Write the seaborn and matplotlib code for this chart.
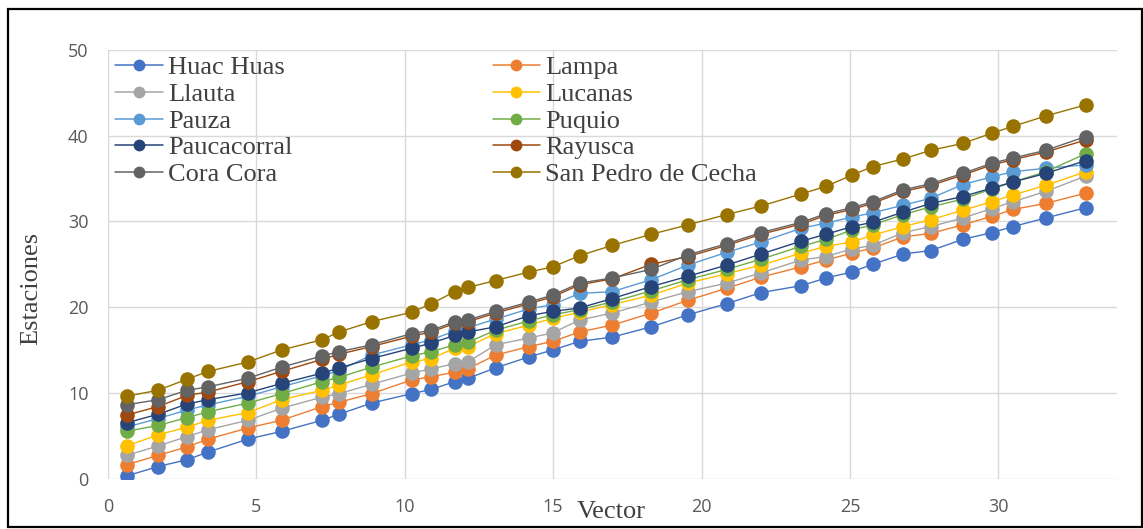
import matplotlib
matplotlib.use("Agg")
import matplotlib.pyplot as plt
from matplotlib.lines import Line2D
from matplotlib.patches import Rectangle
import seaborn as sns
import pandas as pd

# ---------------- data ----------------
vector = [0.63, 1.69, 2.67, 3.38, 4.72, 5.85, 7.22, 7.79, 8.88, 10.23, 10.9,
          11.68, 12.13, 13.06, 14.19, 14.99, 15.89, 16.99, 18.31, 19.54, 20.85,
          22.01, 23.36, 24.2, 25.07, 25.77, 26.8, 27.73, 28.8, 29.79, 30.5,
          31.6, 32.95]

huac_huas = [0.3, 1.4, 2.2, 3.1, 4.6, 5.5, 6.8, 7.5, 8.8, 9.9, 10.4, 11.3, 11.7,
             12.9, 14.2, 15.0, 16.0, 16.5, 17.7, 19.1, 20.4, 21.7, 22.5, 23.4,
             24.1, 25.0, 26.2, 26.6, 27.9, 28.7, 29.4, 30.4, 31.6]
lampa = [1.6, 2.7, 3.7, 4.6, 5.9, 6.8, 8.4, 8.9, 9.9, 11.5, 11.9, 12.4, 12.8,
         14.4, 15.4, 16.0, 17.1, 17.9, 19.3, 20.8, 22.2, 23.5, 24.7, 25.5, 26.3,
         26.9, 28.2, 28.6, 29.6, 30.6, 31.4, 32.1, 33.3]
llauta = [2.7, 3.8, 4.9, 5.7, 6.8, 8.2, 9.5, 9.9, 11.0, 12.3, 12.8, 13.4, 13.6,
          15.6, 16.4, 17.0, 18.5, 19.3, 20.6, 21.8, 22.8, 24.0, 25.5, 25.9, 26.8,
          27.2, 28.7, 29.4, 30.4, 31.5, 32.3, 33.5, 35.3]
lucanas = [3.8, 5.1, 6.0, 6.8, 7.7, 9.2, 10.3, 10.9, 12.1, 13.6, 14.0, 15.2,
           15.4, 16.9, 17.9, 18.7, 19.4, 20.3, 21.4, 22.8, 23.9, 24.9, 26.3,
           27.1, 27.6, 28.4, 29.4, 30.2, 31.3, 32.3, 33.1, 34.2, 35.8]
pauza = [6.0, 7.0, 8.0, 8.6, 9.6, 10.7, 12.0, 12.6, 14.4, 15.6, 16.2, 17.2,
         17.6, 18.6, 19.8, 20.3, 21.6, 21.8, 23.2, 24.9, 26.4, 27.6, 29.2, 29.8,
         30.5, 31.0, 31.9, 32.7, 34.3, 35.2, 35.8, 36.2, 36.6]
puquio = [5.5, 6.2, 7.1, 7.8, 8.8, 9.9, 11.3, 11.8, 13.0, 14.3, 14.8, 15.6,
          15.9, 17.3, 18.4, 19.1, 19.7, 20.6, 21.9, 23.2, 24.4, 25.6, 27.1,
          27.9, 29.0, 29.6, 30.8, 31.7, 32.6, 33.8, 34.6, 35.8, 37.9]
paucacorral = [6.5, 7.5, 8.7, 9.2, 10.0, 11.1, 12.3, 12.9, 14.0, 15.2, 15.8,
               16.7, 17.1, 17.7, 19.0, 19.5, 19.9, 21.0, 22.4, 23.6, 24.9, 26.2,
               27.7, 28.5, 29.4, 29.9, 31.1, 32.1, 32.9, 33.9, 34.6, 35.6, 37.1]
rayusca = [7.4, 8.4, 9.7, 10.1, 11.3, 12.5, 13.9, 14.5, 15.4, 16.6, 17.1, 18.1,
           18.3, 19.3, 20.4, 21.2, 22.6, 23.3, 25.0, 25.9, 27.2, 28.5, 29.7,
           30.7, 31.4, 32.1, 33.5, 34.2, 35.4, 36.6, 37.2, 38.1, 39.5]
cora_cora = [8.6, 9.2, 10.3, 10.7, 11.7, 13.0, 14.3, 14.8, 15.6, 16.9, 17.3,
             18.3, 18.5, 19.5, 20.6, 21.4, 22.8, 23.4, 24.4, 26.1, 27.4, 28.7,
             29.9, 30.9, 31.6, 32.3, 33.7, 34.4, 35.6, 36.8, 37.4, 38.3, 39.9]
san_pedro = [9.6, 10.3, 11.6, 12.5, 13.6, 15.0, 16.2, 17.1, 18.3, 19.4, 20.4,
             21.8, 22.3, 23.1, 24.1, 24.7, 26.0, 27.2, 28.5, 29.6, 30.8, 31.8,
             33.2, 34.1, 35.4, 36.4, 37.3, 38.3, 39.1, 40.3, 41.1, 42.3, 43.6]

series_names = ["Huac Huas", "Lampa", "Llauta", "Lucanas", "Pauza", "Puquio",
                "Paucacorral", "Rayusca", "Cora Cora", "San Pedro de Cecha"]
series_values = [huac_huas, lampa, llauta, lucanas, pauza, puquio,
                 paucacorral, rayusca, cora_cora, san_pedro]
colors = ["#4472C4", "#ED7D31", "#A5A5A5", "#FFC000", "#5B9BD5", "#70AD47",
          "#264478", "#9E480E", "#636363", "#997300"]

x_ticks = [0, 5, 10, 15, 20, 25, 30]
y_ticks = [0, 10, 20, 30, 40, 50]

# ---------------- build long table ----------------
rows = []
for name, vals in zip(series_names, series_values):
    for xv, yv in zip(vector, vals):
        rows.append({"Vector": xv, "Estaciones": yv, "Serie": name})
df = pd.DataFrame(rows)

# ---------------- figure ----------------
sns.set_theme(style="white")
fig = plt.figure(figsize=(11.43, 5.29), dpi=100)
ax = fig.add_axes([108 / 1143, 1 - 478.5 / 529, (1117 - 108) / 1143, 428.5 / 529])

palette = dict(zip(series_names, colors))
sns.lineplot(data=df, x="Vector", y="Estaciones", hue="Serie",
             hue_order=series_names, palette=palette, estimator=None,
             sort=False, marker="o", markersize=10.5, markeredgewidth=0,
             linewidth=1.0, legend=False, ax=ax)

ax.set_xlim(0, 34)
ax.set_ylim(0, 50)
ax.set_xticks(x_ticks)
ax.set_yticks(y_ticks)
ax.grid(True, color="#D9D9D9", linewidth=1.0)
ax.set_axisbelow(True)
for s in ax.spines.values():
    s.set_visible(False)
ax.tick_params(axis="both", length=0, pad=14, labelsize=13, labelcolor="#595959")
for lab in ax.get_xticklabels() + ax.get_yticklabels():
    lab.set_fontfamily("Open Sans")

ax.set_xlabel("Vector", fontsize=19, family="Liberation Serif", color="#404040")
ax.set_ylabel("Estaciones", fontsize=19, family="Liberation Serif", color="#404040")
ax.xaxis.set_label_coords((611 - 108) / 1009, (478.5 - 512) / 428.5)
ax.xaxis.label.set_va("center")
ax.yaxis.set_label_coords((31 - 108) / 1009, (478.5 - 288) / 428.5)
ax.yaxis.label.set_va("center")

# legend: Excel fills row-wise, matplotlib column-wise
handles = {n: Line2D([0], [0], color=c, marker="o", markersize=8.5,
                     markeredgewidth=0, linewidth=1.1)
           for n, c in zip(series_names, colors)}
order = [0, 2, 4, 6, 8, 1, 3, 5, 7, 9]
leg = ax.legend([handles[series_names[i]] for i in order],
                [series_names[i] for i in order],
                ncol=2, loc="upper left", bbox_to_anchor=(115 / 1143, 1 - 56 / 529),
                bbox_transform=fig.transFigure, frameon=False,
                prop={"family": "Liberation Serif", "size": 19},
                labelspacing=0.12, handlelength=1.8, handletextpad=0.2,
                columnspacing=7.6, borderpad=0, borderaxespad=0)
for t in leg.get_texts():
    t.set_color("#404040")

# outer frame of the chart
fig.patches.append(Rectangle((8 / 1143, 2 / 529), (1142 - 8) / 1143, (527 - 9) / 529,
                             transform=fig.transFigure, fill=False,
                             edgecolor="black", linewidth=1.6))

fig.savefig("out.png", dpi=100)
